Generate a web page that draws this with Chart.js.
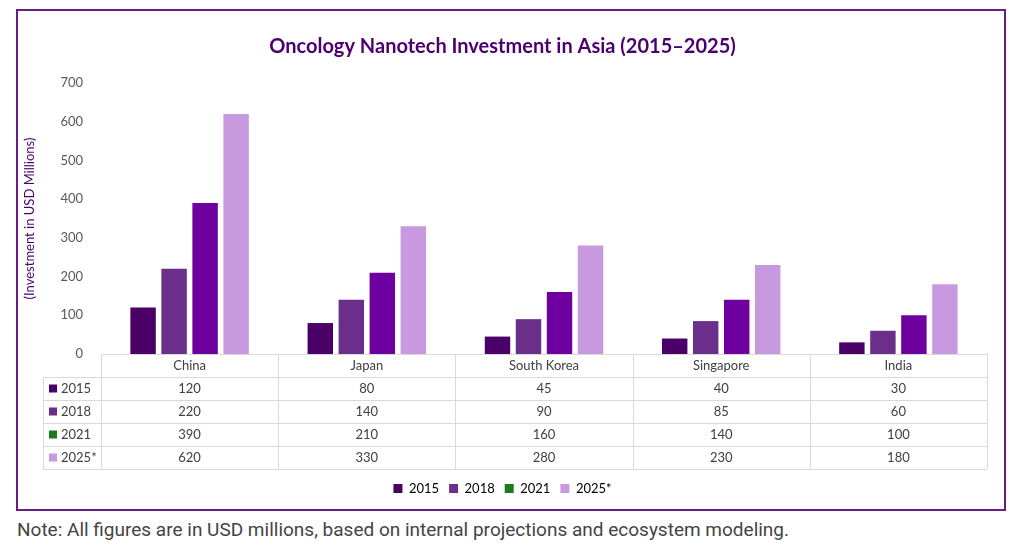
<!DOCTYPE html>
<html><head><meta charset="utf-8">
<script src="https://cdn.jsdelivr.net/npm/chart.js@4"></script>
<style>
body{margin:0;background:#fff;width:1024px;height:548px;position:relative;font-family:Lato,sans-serif}
#box{position:absolute;left:16px;top:9px;width:990px;height:502px;border:2px solid #6a1b8a;box-sizing:border-box}
#note{position:absolute;left:17px;top:518px;font-family:Roboto,sans-serif;font-size:19px;color:#444}
</style></head><body>
<div id="box"><canvas id="chart" width="986" height="498"></canvas></div>
<div id="note">Note: All figures are in USD millions, based on internal projections and ecosystem modeling.</div>
<script>
const countries = ['China', 'Japan', 'South Korea', 'Singapore', 'India'];
const years = ['2015', '2018', '2021', '2025*'];
const v2015 = [120, 80, 45, 40, 30];
const v2018 = [220, 140, 90, 85, 60];
const v2021 = [390, 210, 160, 140, 100];
const v2025 = [620, 330, 280, 230, 180];
const yTicks = [0, 100, 200, 300, 400, 500, 600, 700];

const barColors = ['#4b0068', '#6a2f8a', '#6f00a0', '#c999df'];
const legendColors = ['#4b0068', '#6a2f8a', '#1e7a1e', '#c999df'];
const series = [v2015, v2018, v2021, v2025];

// data table under the plot, aligned to the category scale
const tablePlugin = {
    id: 'dataTable',
    afterDraw(chart) {
        const ctx = chart.ctx;
        const area = chart.chartArea;
        const x = chart.scales.x;
        const rowH = 23;
        const labelLeft = 25;
        const top = area.bottom;
        const colW = (area.right - area.left) / countries.length;
        ctx.save();
        ctx.strokeStyle = '#d9d9d9';
        ctx.lineWidth = 1;
        ctx.beginPath();
        // header row lines
        ctx.moveTo(area.left, top + 0.5); ctx.lineTo(area.right, top + 0.5);
        for (let r = 1; r <= years.length + 1; r++) {
            const yy = Math.round(top + r * rowH) + 0.5;
            ctx.moveTo(labelLeft, yy); ctx.lineTo(area.right, yy);
        }
        for (let c = 0; c <= countries.length; c++) {
            const xx = Math.round(area.left + c * colW) + 0.5;
            ctx.moveTo(xx, top); ctx.lineTo(xx, top + (years.length + 1) * rowH);
        }
        ctx.moveTo(labelLeft + 0.5, top + rowH); ctx.lineTo(labelLeft + 0.5, top + (years.length + 1) * rowH);
        ctx.stroke();

        ctx.font = '13px Lato';
        ctx.fillStyle = '#404040';
        ctx.textAlign = 'center';
        ctx.textBaseline = 'middle';
        countries.forEach((c, i) => {
            ctx.fillText(c, x.getPixelForValue(i), top + rowH / 2);
        });
        years.forEach((yr, r) => {
            const cy = top + (r + 1.5) * rowH;
            ctx.fillStyle = legendColors[r];
            ctx.fillRect(labelLeft + 6, cy - 4, 8, 8);
            ctx.fillStyle = '#404040';
            ctx.textAlign = 'left';
            ctx.fillText(yr, labelLeft + 18, cy);
            ctx.textAlign = 'center';
            series[r].forEach((v, i) => {
                ctx.fillText(v, x.getPixelForValue(i), cy);
            });
        });
        ctx.restore();
    }
};

const ctx = document.getElementById('chart').getContext('2d');
const myChart = new Chart(ctx, {
    type: 'bar',
    data: {
        labels: countries,
        datasets: years.map((yr, i) => ({
            label: yr,
            data: series[i],
            backgroundColor: barColors[i],
            categoryPercentage: 0.7,
            barPercentage: 0.82
        }))
    },
    options: {
        responsive: false,
        animation: false,
        layout: { padding: { left: 0, right: 17, top: 0, bottom: 4 } },
        plugins: {
            title: {
                display: true,
                text: 'Oncology Nanotech Investment in Asia (2015–2025)',
                color: '#4b0070',
                font: { family: 'Lato', size: 20, weight: 'bold' },
                padding: { top: 24, bottom: 24 }
            },
            legend: {
                position: 'bottom',
                labels: {
                    font: { family: 'Lato', size: 13 },
                    color: '#404040',
                    boxWidth: 9,
                    boxHeight: 9,
                    padding: 10,
                    generateLabels: chart => years.map((yr, i) => ({
                        text: yr,
                        fillStyle: legendColors[i],
                        strokeStyle: legendColors[i],
                        lineWidth: 0,
                        datasetIndex: i
                    }))
                }
            },
            tooltip: { enabled: false }
        },
        scales: {
            x: {
                grid: { display: false },
                border: { color: '#d9d9d9' },
                ticks: { display: false },
                afterFit: scale => { scale.height = 118; }
            },
            y: {
                min: 0,
                max: 700,
                grid: { display: false },
                border: { display: false },
                afterBuildTicks: scale => { scale.ticks = yTicks.map(v => ({ value: v })); },
                ticks: { color: '#595959', font: { family: 'Lato', size: 13 }, padding: 10 },
                title: {
                    display: true,
                    text: '(Investment in USD Millions)',
                    color: '#4b0070',
                    font: { family: 'Lato', size: 13 }
                },
                afterFit: scale => { scale.width = 83; }
            }
        }
    },
    plugins: [tablePlugin]
});
</script>
</body></html>
